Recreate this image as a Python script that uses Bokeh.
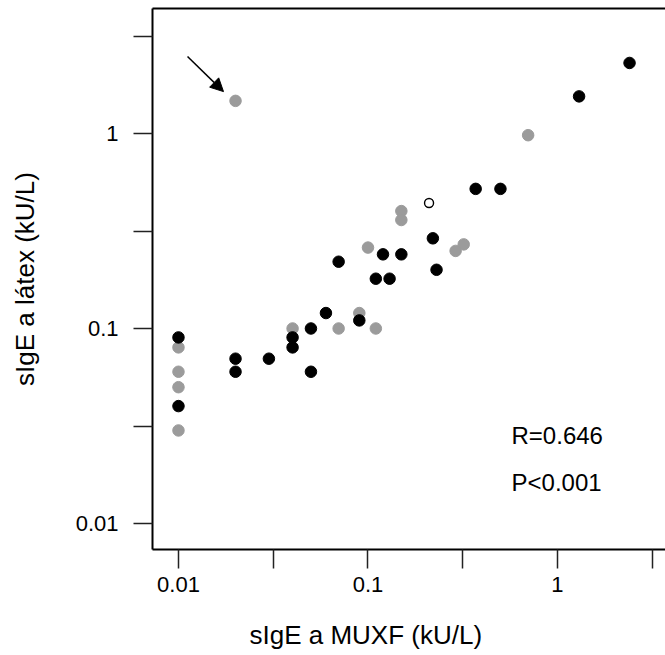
from bokeh.plotting import figure
from bokeh.models import (FixedTicker, CustomJSTickFormatter, LogAxis, Label,
                          Arrow, NormalHead, Title, Range1d)
from bokeh.embed import file_html
from bokeh.resources import INLINE

# ---- data (kU/L) ----
gray_x = [0.02, 0.70, 0.15, 0.15, 0.32, 0.29, 0.10, 0.09, 0.07, 0.11, 0.04, 0.01, 0.01, 0.01, 0.01]
gray_y = [1.47, 0.98, 0.40, 0.36, 0.27, 0.25, 0.26, 0.12, 0.10, 0.10, 0.10, 0.08, 0.06, 0.05, 0.03]

black_x = [2.40, 1.30, 0.37, 0.50, 0.22, 0.15, 0.23, 0.12, 0.07, 0.11, 0.13, 0.06,
           0.09, 0.05, 0.04, 0.04, 0.01, 0.02, 0.02, 0.03, 0.05, 0.01]
black_y = [2.30, 1.55, 0.52, 0.52, 0.29, 0.24, 0.20, 0.24, 0.22, 0.18, 0.18, 0.12,
           0.11, 0.10, 0.09, 0.08, 0.09, 0.07, 0.06, 0.07, 0.06, 0.04]

open_x = [0.21]
open_y = [0.44]

major_ticks = [0.01, 0.1, 1]
half_ticks = [0.0316, 0.316, 3.16]

stats_text = ["R=0.646", "P<0.001"]
stats_x = 0.572
stats_y = [0.0283, 0.0162]

arrow_start = (0.01116, 2.48)
arrow_end = (0.01728, 1.64)

x_title = "sIgE a MUXF (kU/L)"
y_title = "sIgE a látex (kU/L)"

FONT = "Liberation Sans"

p = figure(frame_width=513, frame_height=541, x_axis_type="log", y_axis_type="log",
           x_range=Range1d(0.007293, 3.715), y_range=Range1d(0.007356, 4.375),
           output_backend="svg", toolbar_location=None,
           min_border_left=152, min_border_right=0, min_border_top=8, min_border_bottom=106)
p.outline_line_color = None
p.grid.visible = False
p.background_fill_color = "white"
p.border_fill_color = "white"

fmt = CustomJSTickFormatter(code="return String(tick)")
for ax in (p.xaxis[0], p.yaxis[0]):
    ax.ticker = FixedTicker(ticks=major_ticks, minor_ticks=half_ticks)
    ax.formatter = fmt
    ax.axis_line_width = 2
    ax.axis_line_color = "black"
    ax.major_tick_line_color = "#222222"
    ax.minor_tick_line_color = "#222222"
    ax.major_tick_line_width = 1.5
    ax.minor_tick_line_width = 1.5
    ax.major_tick_out = 19
    ax.major_tick_in = 0
    ax.minor_tick_out = 19
    ax.minor_tick_in = 0
    ax.major_label_text_font = FONT
    ax.major_label_text_font_size = "22px"
    ax.major_label_text_color = "black"

p.yaxis.major_label_standoff = 15
p.xaxis.major_label_standoff = 8
p.yaxis.axis_label = y_title
p.yaxis.axis_label_text_font = FONT
p.yaxis.axis_label_text_font_size = "26px"
p.yaxis.axis_label_text_font_style = "normal"
p.yaxis.axis_label_text_color = "black"
p.yaxis.axis_label_standoff = 33

top_axis = LogAxis(ticker=FixedTicker(ticks=[]), major_label_text_font_size="0px",
                   major_tick_line_color=None, minor_tick_line_color=None,
                   axis_line_width=2, axis_line_color="black")
p.add_layout(top_axis, "above")

p.add_layout(Title(text=x_title, align="left", offset=97, text_font=FONT,
                   text_font_size="26px", text_font_style="normal",
                   text_color="black", standoff=46), "below")

p.scatter(gray_x, gray_y, size=11.5, fill_color="#9b9b9b", line_color="#9b9b9b")
p.scatter(black_x, black_y, size=11.5, fill_color="black", line_color="black")
p.scatter(open_x, open_y, size=9, fill_color="white", line_color="black", line_width=1.4)

for t, yy in zip(stats_text, stats_y):
    p.add_layout(Label(x=stats_x, y=yy, text=t, text_baseline="middle",
                       text_font=FONT, text_font_size="24px", text_color="black"))

p.add_layout(Arrow(end=NormalHead(size=13, fill_color="black", line_color="black"),
                   x_start=arrow_start[0], y_start=arrow_start[1],
                   x_end=arrow_end[0], y_end=arrow_end[1],
                   line_width=1.5, line_color="black"))

open("out.html", "w").write(file_html(p, INLINE))
